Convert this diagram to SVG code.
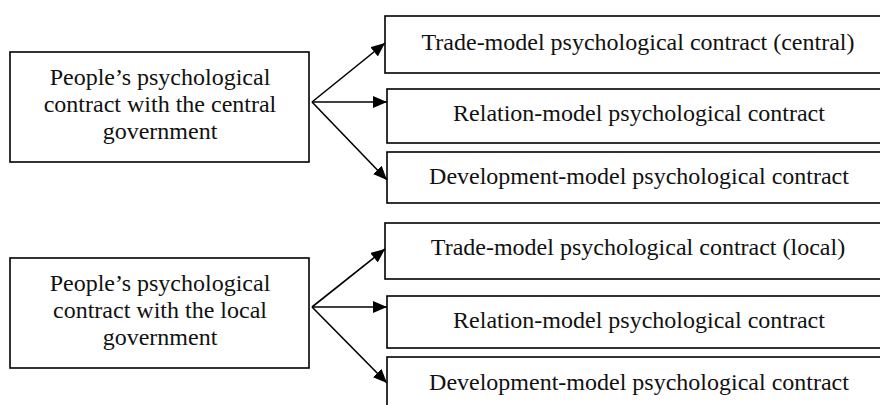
<svg xmlns="http://www.w3.org/2000/svg" width="880" height="405" viewBox="0 0 880 405">
  <style>
    .box { fill: #fff; stroke: #000; stroke-width: 1.6; }
    .lbl { font-family: "Liberation Serif", "Times New Roman", serif; font-size: 24px; fill: #111; text-anchor: middle; }
    .conn { stroke: #000; stroke-width: 1.6; fill: none; marker-end: url(#arrow); }
  </style>
  <defs>
    <marker id="arrow" viewBox="0 0 14 12" refX="14" refY="6" markerWidth="14" markerHeight="12" markerUnits="userSpaceOnUse" orient="auto">
      <path d="M0,0 L14,6 L0,12 Z" fill="#000"/>
    </marker>
  </defs>
  <rect width="880" height="405" fill="#fff"/>

  <!-- central government block -->
  <g id="central-source">
    <rect class="box" x="10" y="52" width="299" height="110"/>
    <text class="lbl" x="160" y="85">People’s psychological</text>
    <text class="lbl" x="160" y="112">contract with the central</text>
    <text class="lbl" x="160" y="139">government</text>
  </g>
  <g id="central-trade">
    <rect class="box" x="385" y="16" width="510" height="57"/>
    <text class="lbl" x="638" y="50">Trade-model psychological contract (central)</text>
  </g>
  <g id="central-relation">
    <rect class="box" x="387" y="89" width="510" height="54"/>
    <text class="lbl" x="639" y="121">Relation-model psychological contract</text>
  </g>
  <g id="central-development">
    <rect class="box" x="387" y="152" width="510" height="51"/>
    <text class="lbl" x="639" y="184">Development-model psychological contract</text>
  </g>

  <!-- local government block -->
  <g id="local-source">
    <rect class="box" x="10" y="258" width="299" height="110"/>
    <text class="lbl" x="160" y="291">People’s psychological</text>
    <text class="lbl" x="160" y="318">contract with the local</text>
    <text class="lbl" x="160" y="345">government</text>
  </g>
  <g id="local-trade">
    <rect class="box" x="385" y="223" width="510" height="56"/>
    <text class="lbl" x="638" y="255">Trade-model psychological contract (local)</text>
  </g>
  <g id="local-relation">
    <rect class="box" x="387" y="296" width="510" height="52"/>
    <text class="lbl" x="639" y="328">Relation-model psychological contract</text>
  </g>
  <g id="local-development">
    <rect class="box" x="387" y="357" width="510" height="60"/>
    <text class="lbl" x="639" y="390">Development-model psychological contract</text>
  </g>

  <g id="connectors">
    <line class="conn" x1="312" y1="102" x2="385" y2="43"/>
    <line class="conn" x1="312" y1="102" x2="387" y2="102"/>
    <line class="conn" x1="312" y1="102" x2="387" y2="180"/>
    <line class="conn" x1="312" y1="307" x2="385" y2="249"/>
    <line class="conn" x1="312" y1="307" x2="387" y2="307"/>
    <line class="conn" x1="312" y1="307" x2="387" y2="383"/>
  </g>
</svg>
